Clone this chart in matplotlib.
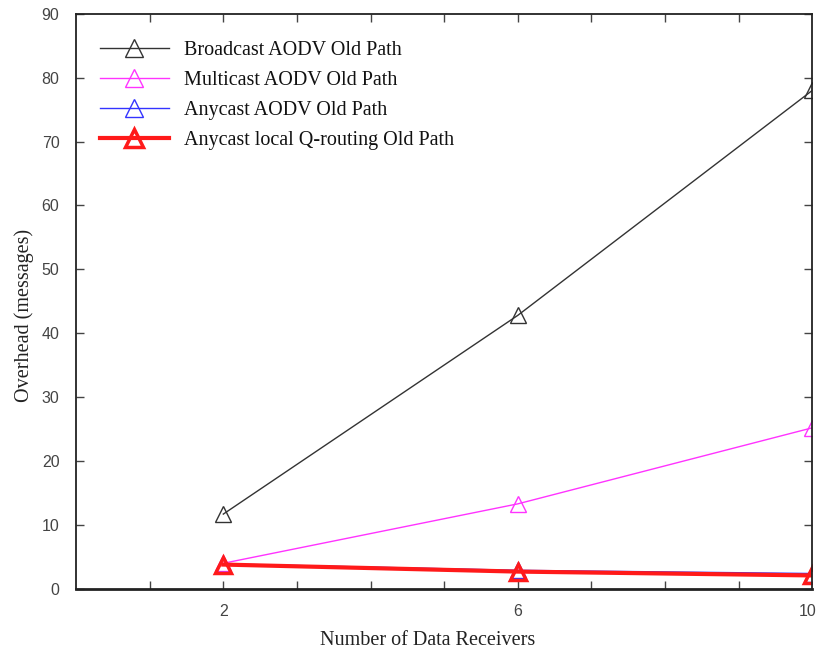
import matplotlib.pyplot as plt
import matplotlib.transforms as mtransforms
import numpy as np

receivers = [2, 6, 10]
broadcast_aodv = [11.7, 42.8, 78.0]
multicast_aodv = [4.0, 13.3, 25.2]
anycast_aodv = [3.9, 2.9, 2.4]
anycast_q = [3.8, 2.7, 2.1]

plt.rcParams['font.family'] = ['Liberation Serif', 'DejaVu Serif']

fig = plt.figure(figsize=(8.18, 6.55), dpi=100)
ax = fig.add_axes([0.093, 0.101, 0.900, 0.878])

tri = dict(marker='^', markerfacecolor='none')
ax.plot(receivers, broadcast_aodv, color='#333333', lw=1.0, ms=12, mew=1.0,
        label='Broadcast AODV Old Path', **tri)
ax.plot(receivers, multicast_aodv, color='#ff33ff', lw=1.0, ms=12, mew=1.0,
        label='Multicast AODV Old Path', **tri)
ax.plot(receivers, anycast_aodv, color='#3333ff', lw=1.0, ms=12, mew=1.0,
        label='Anycast AODV Old Path', **tri)
ax.plot(receivers, anycast_q, color='#ff1a1a', lw=3.0, ms=12, mew=2.5,
        label='Anycast local Q-routing Old Path', **tri)

ax.set_xlim(0, 10)
ax.set_ylim(0, 90)
ax.set_xticks(np.arange(1, 10))
ax.set_xticklabels(['', '2', '', '', '', '6', '', '', ''])
ax.set_xticks([10], minor=True)
ax.set_xticklabels(['10'], minor=True)
ax.set_yticks(np.arange(0, 91, 10))
ax.tick_params(which='both', direction='in', length=6, width=1, color='#444444',
               top=True, right=True, labelsize=11.5, labelcolor='#444444')
ax.tick_params(axis='x', which='both', pad=11)
ax.tick_params(axis='y', pad=12)
ax.tick_params(axis='x', which='minor', length=0)
for lbl in ax.get_xticklabels(which='both') + ax.get_yticklabels():
    lbl.set_family(['Liberation Sans', 'DejaVu Sans'])
# keep the last x label inside the figure
shift = mtransforms.ScaledTranslation(-5 / 100, 0, fig.dpi_scale_trans)
for lbl in ax.get_xticklabels(minor=True):
    lbl.set_transform(lbl.get_transform() + shift)

for side in ['left', 'bottom', 'top', 'right']:
    ax.spines[side].set_color('#222222')
    ax.spines[side].set_linewidth(1.3)
ax.spines['bottom'].set_linewidth(2)

ax.set_xlabel('Number of Data Receivers', fontsize=14.5, color='#222222')
ax.xaxis.set_label_coords(0.478, -0.073)
ax.set_ylabel('Overhead (messages)', fontsize=14.5, color='#222222')
ax.yaxis.set_label_coords(-0.057, 0.475)

leg = ax.legend(loc='upper left', frameon=False, fontsize=14.5, handlelength=3.4,
                handletextpad=0.75, labelspacing=0.55, markerscale=1.05,
                bbox_to_anchor=(0.008, 0.985))
for t in leg.get_texts():
    t.set_color('#111111')

fig.savefig('out.png', dpi=100)
